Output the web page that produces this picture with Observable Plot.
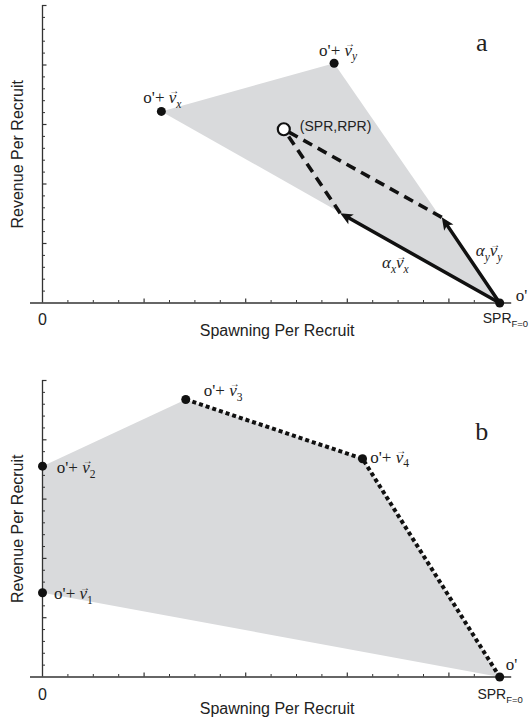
<!DOCTYPE html>
<html>
<head>
<meta charset="utf-8">
<script src="https://cdn.jsdelivr.net/npm/d3@7"></script>
<script src="https://cdn.jsdelivr.net/npm/@observablehq/plot@0.6"></script>
<style>
  html, body { margin: 0; padding: 0; background: #fff; }
  #a, #b { display: block; width: 532px; }
  svg { display: block; }
</style>
</head>
<body>
<div id="a"></div>
<div id="b"></div>
<script>
// ---------------- Panel a data ----------------
const aHullX = [4.5, 1.17, 2.87];          // o', o'+vx, o'+vy
const aHullY = [0, 3.22, 4.03];
const aDotLabels = ["o'", "o'+ *v\u20D7_x*", "o'+ *v\u20D7_y*"];
const aArrowX2 = [2.93, 3.93];             // alpha_x v_x , alpha_y v_y tips
const aArrowY2 = [1.51, 1.44];
const aArrowLabels = ["*\u03B1_xv\u20D7_x*", "*\u03B1_yv\u20D7_y*"];
const aPointX = [2.375];                   // (SPR,RPR)
const aPointY = [2.92];
const aPointLabels = ["(SPR,RPR)"];

// ---------------- Panel b data ----------------
const bHullX = [4.5, 0, 0, 1.41, 3.15];    // o', o'+v1, o'+v2, o'+v3, o'+v4
const bHullY = [0, 1.42, 3.555, 4.68, 3.68];
const bDotLabels = ["o'", "o'+ *v\u20D7*_1", "o'+ *v\u20D7*_2", "o'+ *v\u20D7*_3", "o'+ *v\u20D7*_4"];
const bFrontier = [3, 4, 0];               // dotted frontier v3 -> v4 -> o'

// ---------------- Axes ----------------
const xMinorTicks = [0.25, 0.5, 0.75, 1.25, 1.5, 1.75, 2.25, 2.5, 2.75, 3.25, 3.5, 3.75, 4.25];
const xMajorTicks = [1, 2, 3, 4];
const yMinorTicks = [0.2, 0.4, 0.6, 0.8, 1.2, 1.4, 1.6, 1.8, 2.2, 2.4, 2.6, 2.8, 3.2, 3.4, 3.6, 3.8, 4.2, 4.4, 4.6, 4.8];
const yMajorTicks = [1, 2, 3, 4, 5];
const xZeroLabel = ["0"];
const xEndLabel = ["SPR_{F=0}"];
const xTitle = "Spawning Per Recruit";
const yTitle = "Revenue Per Recruit";
const panelLetters = ["a", "b"];

// ---------------- Styles ----------------
const ink = "#111";
const axisInk = "#333";
const textInk = "#222";
const shade = "#d9dadc";
const serif = "'Liberation Serif', 'Times New Roman', serif";
const sans = "'Liberation Sans', Arial, sans-serif";

// filled, notched arrowhead with its tip at the symbol origin, pointing up
const arrowHead = {
  draw(context) {
    const L = 12.5, w = 5.6, notch = 9.5;
    context.moveTo(0, 0);
    context.lineTo(w, L);
    context.lineTo(0, notch);
    context.lineTo(-w, L);
    context.closePath();
  }
};

function axisMarks(xEndOffset, titleDy, zeroDy) {
  return [
    Plot.ruleY([0], {stroke: axisInk, strokeWidth: 1.3, insetLeft: -12, insetRight: -12}),
    Plot.ruleX([0], {y1: 0, y2: 5, stroke: axisInk, strokeWidth: 1.3}),
    Plot.ruleX(xMinorTicks, {x: d => d, y1: 0, y2: 0, insetTop: -2.5, stroke: axisInk, strokeWidth: 1}),
    Plot.ruleX(xMajorTicks, {x: d => d, y1: 0, y2: 0, insetTop: -4, stroke: axisInk, strokeWidth: 1.2}),
    Plot.ruleY(yMinorTicks, {y: d => d, x1: 0, x2: 0, insetRight: -3, stroke: axisInk, strokeWidth: 1}),
    Plot.ruleY(yMajorTicks, {y: d => d, x1: 0, x2: 0, insetRight: -4.5, stroke: axisInk, strokeWidth: 1.2}),
    Plot.text(xZeroLabel, {x: 0, y: 0, text: d => d, dy: zeroDy, lineAnchor: "middle", fontSize: 16, fontFamily: sans, fill: textInk}),
    Plot.text(xEndLabel, {x: 4.5, y: 0, text: d => d, dx: xEndOffset[0], dy: xEndOffset[1], textAnchor: "start", lineAnchor: "middle", fontSize: 14, fontFamily: sans, fill: textInk}),
    Plot.text([xTitle], {frameAnchor: "bottom", text: d => d, dx: 6, dy: titleDy, textAnchor: "middle", lineAnchor: "middle", fontSize: 16, fontFamily: sans, fill: textInk}),
    Plot.text([yTitle], {frameAnchor: "left", text: d => d, dx: -25, rotate: -90, textAnchor: "middle", lineAnchor: "middle", fontSize: 16, fontFamily: sans, fill: textInk})
  ];
}

function dotLabel(xs, ys, labels, k, dx, dy) {
  return Plot.text([k], {
    x: i => xs[i], y: i => ys[i], text: i => labels[i],
    dx, dy, textAnchor: "start", lineAnchor: "middle", fontSize: 17, fontFamily: serif, fill: textInk
  });
}

// ---------------- Panel a ----------------
const aIdx = aHullX.map((_, i) => i);
function buildA(headMarks) {
  return Plot.plot({
    width: 532, height: 350,
    marginLeft: 42, marginRight: 32.8, marginTop: 5, marginBottom: 47.5,
    x: {domain: [0, 4.5], axis: null},
    y: {domain: [0, 5], axis: null},
    marks: [
      Plot.line([...aIdx, 0], {x: i => aHullX[i], y: i => aHullY[i], fill: shade, stroke: "none"}),
      Plot.link([0, 1], {x1: i => aArrowX2[i], y1: i => aArrowY2[i], x2: () => aPointX[0], y2: () => aPointY[0],
        stroke: ink, strokeWidth: 3.6, strokeDasharray: "10,6.5"}),
      ...axisMarks([-17, 16], 27.5, 16.5),
      Plot.arrow([0, 1], {x1: () => aHullX[0], y1: () => aHullY[0], x2: i => aArrowX2[i], y2: i => aArrowY2[i],
        stroke: ink, strokeWidth: 3.5, headLength: 0, insetEnd: 7}),
      ...headMarks,
      Plot.dot(aIdx, {x: i => aHullX[i], y: i => aHullY[i], r: 4.5, fill: ink}),
      Plot.dot([0], {x: i => aPointX[i], y: i => aPointY[i], r: 6, fill: "white", stroke: ink, strokeWidth: 2.2}),
      dotLabel(aHullX, aHullY, aDotLabels, 0, 16, -7.5),
      dotLabel(aHullX, aHullY, aDotLabels, 1, -18, -14),
      dotLabel(aHullX, aHullY, aDotLabels, 2, -15, -13),
      Plot.text([0], {x: i => aPointX[i], y: i => aPointY[i], text: i => aPointLabels[i], dx: 16, dy: -2.5,
        textAnchor: "start", lineAnchor: "middle", fontSize: 14, fontFamily: sans, fill: textInk}),
      Plot.text([0], {x: i => (aHullX[0] + aArrowX2[i]) / 2, y: i => (aHullY[0] + aArrowY2[i]) / 2, text: i => aArrowLabels[i],
        dx: -38, dy: 4.5, textAnchor: "start", lineAnchor: "middle", fontSize: 17, fontFamily: serif, fill: textInk}),
      Plot.text([1], {x: i => (aHullX[0] + aArrowX2[i]) / 2, y: i => (aHullY[0] + aArrowY2[i]) / 2, text: i => aArrowLabels[i],
        dx: 5, dy: -9.5, textAnchor: "start", lineAnchor: "middle", fontSize: 17, fontFamily: serif, fill: textInk}),
      Plot.text([panelLetters[0]], {frameAnchor: "top-right", text: d => d, dx: -18, dy: 37, textAnchor: "middle", lineAnchor: "middle", fontSize: 26, fontFamily: serif, fill: textInk})
    ]
  });
}
// first pass: read the plot's own scales to orient the arrowheads in screen space
const probeA = buildA([]);
const sx = probeA.scale("x"), sy = probeA.scale("y");
const headRotate = [0, 1].map(i => {
  const dx = sx.apply(aArrowX2[i]) - sx.apply(aHullX[0]);
  const dy = sy.apply(aArrowY2[i]) - sy.apply(aHullY[0]);
  return Math.atan2(dx, -dy) * 180 / Math.PI;
});
const plotA = buildA([
  Plot.dot([0, 1], {x: i => aArrowX2[i], y: i => aArrowY2[i], symbol: arrowHead, rotate: i => headRotate[i], r: 5, fill: ink, stroke: "none"})
]);

// ---------------- Panel b ----------------
const bIdx = bHullX.map((_, i) => i);
const plotB = Plot.plot({
  width: 532, height: 369,
  marginLeft: 42, marginRight: 32.8, marginTop: 30, marginBottom: 42.5,
  x: {domain: [0, 4.5], axis: null},
  y: {domain: [0, 5], axis: null},
  marks: [
    Plot.line([...bIdx, 0], {x: i => bHullX[i], y: i => bHullY[i], fill: shade, stroke: "none"}),
    ...axisMarks([-22.3, 17.5], 31.5, 17.5),
    Plot.line(bFrontier, {x: i => bHullX[i], y: i => bHullY[i], stroke: ink, strokeWidth: 4, strokeDasharray: "4,3", strokeLinecap: "butt"}),
    Plot.dot(bIdx, {x: i => bHullX[i], y: i => bHullY[i], r: 4.5, fill: ink}),
    dotLabel(bHullX, bHullY, bDotLabels, 0, 6, -12),
    dotLabel(bHullX, bHullY, bDotLabels, 1, 11.6, 1),
    dotLabel(bHullX, bHullY, bDotLabels, 2, 14.3, 1.3),
    dotLabel(bHullX, bHullY, bDotLabels, 3, 18, -9),
    dotLabel(bHullX, bHullY, bDotLabels, 4, 7.7, -1.6),
    Plot.text([panelLetters[1]], {frameAnchor: "top-right", text: d => d, dx: -18, dy: 51, textAnchor: "middle", lineAnchor: "middle", fontSize: 26, fontFamily: serif, fill: textInk})
  ]
});

document.getElementById("a").appendChild(plotA);
document.getElementById("b").appendChild(plotB);

// ---------- rich text: *italic*, _s or _{sub} subscripts, U+20D7 vector accent ----------
function parseRich(s) {
  const runs = [];
  let italic = false, buf = "";
  const flush = () => { if (buf) runs.push({text: buf, italic, sub: false}); buf = ""; };
  for (let i = 0; i < s.length; i++) {
    const c = s[i];
    if (c === "*") { flush(); italic = !italic; }
    else if (c === "\u20D7") {
      const base = buf.slice(-1); buf = buf.slice(0, -1); flush();
      runs.push({text: base, italic, sub: false, accent: true});
    }
    else if (c === "_") {
      flush();
      let sub;
      if (s[i + 1] === "{") { const j = s.indexOf("}", i); sub = s.slice(i + 2, j); i = j; }
      else { sub = s[i + 1]; i++; }
      runs.push({text: sub, italic, sub: true});
    } else buf += c;
  }
  flush();
  return runs;
}
const NS = "http://www.w3.org/2000/svg";
function richify(svg) {
  svg.querySelectorAll("text").forEach(t => {
    const s = t.textContent;
    if (!/[_*\u20D7]/.test(s)) return;
    const fs = parseFloat(getComputedStyle(t).fontSize) || 16;
    const runs = parseRich(s);
    while (t.firstChild) t.removeChild(t.firstChild);
    let cur = 0, pendingDx = 0;
    for (const r of runs) {
      const ts = document.createElementNS(NS, "tspan");
      ts.textContent = r.text;
      if (r.italic) ts.setAttribute("font-style", "italic");
      const want = r.sub ? 0.28 * fs : 0;
      if (want !== cur) ts.setAttribute("dy", (want - cur).toFixed(2));
      cur = want;
      if (pendingDx) { ts.setAttribute("dx", pendingDx.toFixed(2)); pendingDx = 0; }
      if (r.sub) ts.setAttribute("font-size", (0.68 * fs).toFixed(2));
      t.appendChild(ts);
      if (r.accent) {
        const vLen = ts.getComputedTextLength();
        const ar = document.createElementNS(NS, "tspan");
        ar.textContent = "\u2192";
        ar.setAttribute("font-size", (0.58 * fs).toFixed(2));
        ar.setAttribute("font-style", "normal");
        t.appendChild(ar);
        const aLen = ar.getComputedTextLength();
        const skew = r.italic ? 0.1 * fs : 0;
        const up = -0.5 * fs;
        ar.setAttribute("dx", (-(vLen + aLen) / 2 + skew).toFixed(2));
        ar.setAttribute("dy", (up - cur).toFixed(2));
        cur = up;
        pendingDx = (vLen - aLen) / 2 - skew;
      }
    }
  });
}
richify(plotA);
richify(plotB);
</script>
</body>
</html>
